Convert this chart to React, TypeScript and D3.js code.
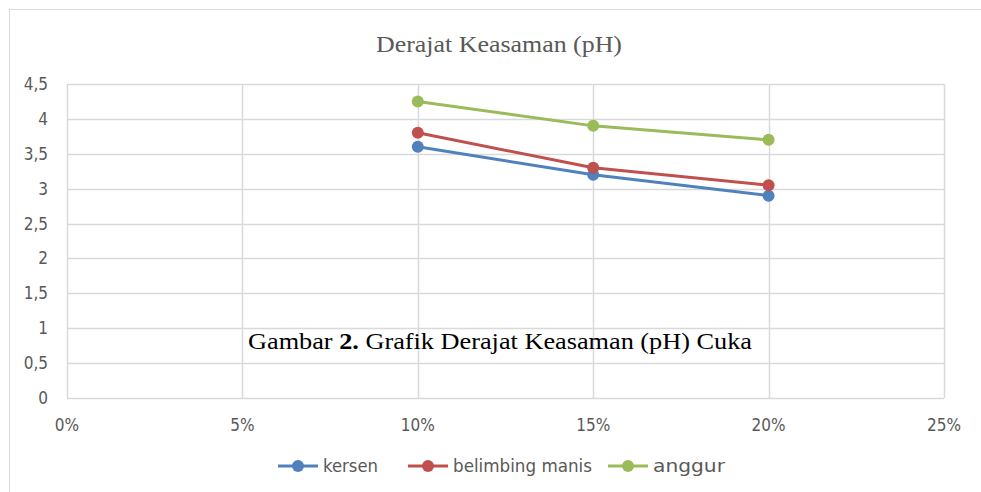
import React, { useEffect, useRef } from "react";
import * as d3 from "d3";

const categories = [0.1, 0.15, 0.2];
const kersen = [3.6, 3.2, 2.9];
const belimbingManis = [3.8, 3.3, 3.05];
const anggur = [4.25, 3.9, 3.7];
const xTicks = [0, 0.05, 0.1, 0.15, 0.2, 0.25];
const yTicks = [0, 0.5, 1, 1.5, 2, 2.5, 3, 3.5, 4, 4.5];

const seriesNames = ["kersen", "belimbing manis", "anggur"];
const seriesColors = ["#4F81BD", "#C0504D", "#9BBB59"];

const W = 981;
const H = 492;

const App = () => {
  const ref = useRef<SVGSVGElement>(null);

  useEffect(() => {
    const svg = d3.select(ref.current);
    svg.selectAll("*").remove();

    // chart frame
    svg
      .append("rect")
      .attr("x", 9.5)
      .attr("y", 9.5)
      .attr("width", W + 20)
      .attr("height", H + 20)
      .attr("fill", "#fff")
      .attr("stroke", "#d9d9d9");

    const x = d3.scaleLinear().domain([0, 0.25]).range([67, 944]);
    const y = d3.scaleLinear().domain([0, 4.5]).range([398, 84]);

    const g = svg.append("g");

    // gridlines
    g.selectAll(".hgrid")
      .data(yTicks)
      .enter()
      .append("line")
      .attr("x1", x(0))
      .attr("x2", x(0.25))
      .attr("y1", (d) => Math.round(y(d)) + 0.5)
      .attr("y2", (d) => Math.round(y(d)) + 0.5)
      .attr("stroke", "#d9d9d9")
      .attr("stroke-width", 1.5);

    g.selectAll(".vgrid")
      .data(xTicks)
      .enter()
      .append("line")
      .attr("x1", (d) => Math.round(x(d)) + 0.5)
      .attr("x2", (d) => Math.round(x(d)) + 0.5)
      .attr("y1", y(4.5))
      .attr("y2", y(0))
      .attr("stroke", "#d9d9d9")
      .attr("stroke-width", 1.5);

    const tickFont = "'DejaVu Sans Condensed', 'Liberation Sans Narrow', sans-serif";
    const fmt = (d: number) => String(d).replace(".", ",");

    g.selectAll(".ylab")
      .data(yTicks)
      .enter()
      .append("text")
      .attr("x", 48)
      .attr("y", (d) => y(d))
      .attr("dy", "0.35em")
      .attr("text-anchor", "end")
      .attr("font-family", tickFont)
      .attr("font-size", 17)
      .attr("fill", "#595959")
      .text((d) => fmt(d));

    g.selectAll(".xlab")
      .data(xTicks)
      .enter()
      .append("text")
      .attr("x", (d) => x(d))
      .attr("y", 431)
      .attr("text-anchor", "middle")
      .attr("font-family", tickFont)
      .attr("font-size", 17)
      .attr("fill", "#595959")
      .text((d) => `${Math.round(d * 100)}%`);

    // series
    const allSeries = [kersen, belimbingManis, anggur];
    const line = d3
      .line<number>()
      .x((d, i) => x(categories[i]))
      .y((d) => y(d));

    allSeries.forEach((vals, si) => {
      g.append("path")
        .datum(vals)
        .attr("d", line)
        .attr("fill", "none")
        .attr("stroke", seriesColors[si])
        .attr("stroke-width", 3)
        .attr("stroke-linejoin", "round");
      g.selectAll(`.pt${si}`)
        .data(vals)
        .enter()
        .append("circle")
        .attr("cx", (d, i) => x(categories[i]))
        .attr("cy", (d) => y(d))
        .attr("r", 6)
        .attr("fill", seriesColors[si]);
    });

    // title
    svg
      .append("text")
      .attr("x", 499)
      .attr("y", 52)
      .attr("text-anchor", "middle")
      .attr("font-family", "'Liberation Serif', 'Times New Roman', serif")
      .attr("font-size", 24)
      .attr("fill", "#595959")
      .attr("textLength", 246)
      .attr("lengthAdjust", "spacingAndGlyphs")
      .text("Derajat Keasaman (pH)");

    // caption overlay
    const cap = svg
      .append("text")
      .attr("x", 248)
      .attr("y", 349)
      .attr("font-family", "'Liberation Serif', 'Times New Roman', serif")
      .attr("font-size", 24)
      .attr("fill", "#000")
      .attr("textLength", 504)
      .attr("lengthAdjust", "spacingAndGlyphs");
    cap.append("tspan").text("Gambar ");
    cap.append("tspan").attr("font-weight", 600).text("2.");
    cap.append("tspan").text(" Grafik Derajat Keasaman (pH) Cuka");

    // legend
    const legendX = [278, 408, 608];
    const legendW = [55, 139, 72];
    const legendY = 466;
    seriesNames.forEach((name, i) => {
      const lg = svg.append("g").attr("transform", `translate(${legendX[i]},${legendY})`);
      lg.append("line")
        .attr("x1", 0)
        .attr("x2", 40)
        .attr("y1", 0)
        .attr("y2", 0)
        .attr("stroke", seriesColors[i])
        .attr("stroke-width", 3);
      lg.append("circle").attr("cx", 20).attr("cy", 0).attr("r", 6).attr("fill", seriesColors[i]);
      lg.append("text")
        .attr("x", 45)
        .attr("y", 0)
        .attr("dy", "0.35em")
        .attr("font-family", tickFont)
        .attr("font-size", 17)
        .attr("fill", "#595959")
        .attr("textLength", legendW[i])
        .attr("lengthAdjust", "spacingAndGlyphs")
        .text(name);
    });
  }, []);

  return (
    <svg
      ref={ref}
      width={W}
      height={H}
      style={{ position: "absolute", left: 0, top: 0, background: "#fff" }}
    ></svg>
  );
};

export default App;
